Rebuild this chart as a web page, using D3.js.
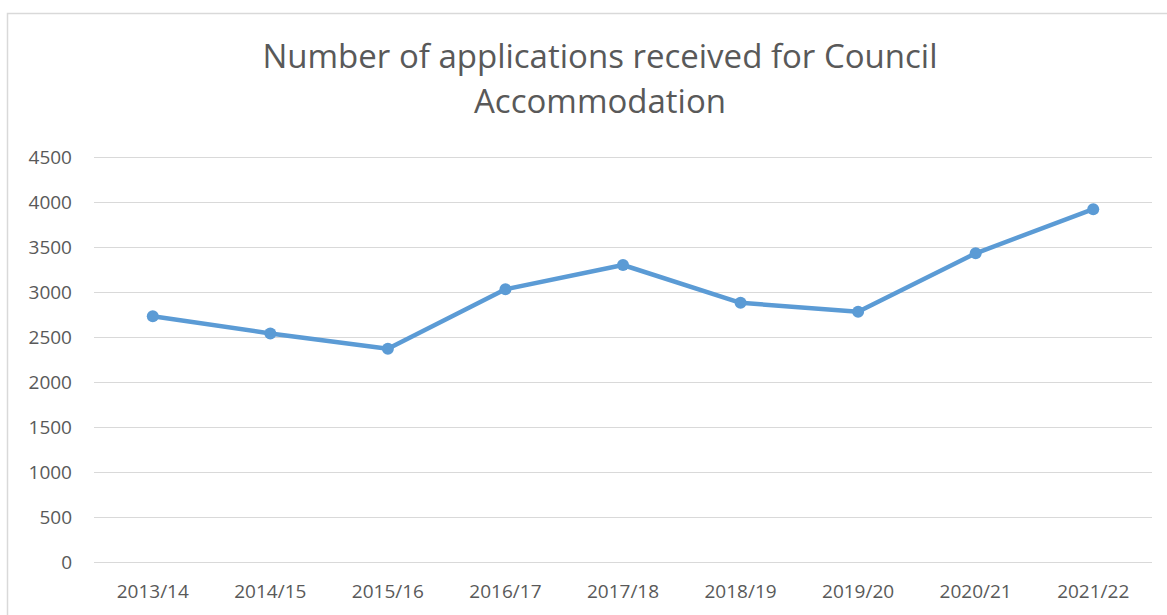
<!DOCTYPE html>
<html>
<head>
<meta charset="utf-8">
<script src="https://cdn.jsdelivr.net/npm/d3@7"></script>
<style>
  body { margin: 0; background: #fff; }
  text { font-family: "Open Sans", sans-serif; fill: #595959; }
</style>
</head>
<body>
<div class="chart"></div>
<script>
var years = ['2013/14', '2014/15', '2015/16', '2016/17', '2017/18', '2018/19', '2019/20', '2020/21', '2021/22'];
var applications = [2730, 2540, 2370, 3030, 3300, 2880, 2780, 3430, 3920];
var yTicks = [0, 500, 1000, 1500, 2000, 2500, 3000, 3500, 4000, 4500];
var titleLines = ['Number of applications received for Council', 'Accommodation'];

var W = 1167, H = 615;
var margin = { top: 157, right: 15, bottom: 53, left: 94 };
var width = W - margin.left - margin.right;
var height = H - margin.top - margin.bottom;

var svg = d3.select('.chart').append('svg')
    .attr('width', W)
    .attr('height', H);

// chart frame (only top and left edges are visible in the crop)
svg.append('path')
    .attr('d', 'M7.5,' + H + 'V13.5H' + W)
    .attr('fill', 'none')
    .attr('stroke', '#d9d9d9')
    .attr('stroke-width', 1.5);

svg.append('text')
    .attr('x', 600)
    .attr('y', 68)
    .attr('text-anchor', 'middle')
    .style('font-size', '33px')
    .selectAll('tspan')
    .data(titleLines)
    .enter().append('tspan')
    .attr('x', 600)
    .attr('dy', function(d, i) { return i ? 45 : 0; })
    .text(function(d) { return d; });

var x = d3.scaleBand().domain(years).range([0, width]);
var y = d3.scaleLinear().domain([0, 4500]).range([height, 0]);

var g = svg.append('g')
    .attr('transform', 'translate(' + margin.left + ',' + margin.top + ')');

g.append('g')
    .attr('class', 'grid')
    .call(d3.axisLeft(y).tickValues(yTicks).tickSize(-width).tickFormat(''))
    .call(function(s) { s.select('.domain').remove(); })
    .selectAll('line')
    .attr('stroke', '#d9d9d9')
    .attr('stroke-width', 1.2);

var yAxis = g.append('g')
    .call(d3.axisLeft(y).tickValues(yTicks).tickSize(0).tickPadding(22).tickFormat(d3.format('d')));
yAxis.select('.domain').remove();
yAxis.selectAll('text').style('font-size', '19px').attr('fill', '#595959');

var xAxis = g.append('g')
    .attr('transform', 'translate(0,' + height + ')')
    .call(d3.axisBottom(x).tickSize(0).tickPadding(23));
xAxis.select('.domain').remove();
xAxis.selectAll('text').style('font-size', '19px').attr('fill', '#595959');

var line = d3.line()
    .x(function(d, i) { return x(years[i]) + x.bandwidth() / 2; })
    .y(function(d) { return y(d); });

g.append('path')
    .datum(applications)
    .attr('fill', 'none')
    .attr('stroke', '#5b9bd5')
    .attr('stroke-width', 4.5)
    .attr('stroke-linejoin', 'round')
    .attr('d', line);

g.selectAll('circle')
    .data(applications)
    .enter().append('circle')
    .attr('cx', function(d, i) { return x(years[i]) + x.bandwidth() / 2; })
    .attr('cy', function(d) { return y(d); })
    .attr('r', 6)
    .attr('fill', '#5b9bd5');
</script>
</body>
</html>
